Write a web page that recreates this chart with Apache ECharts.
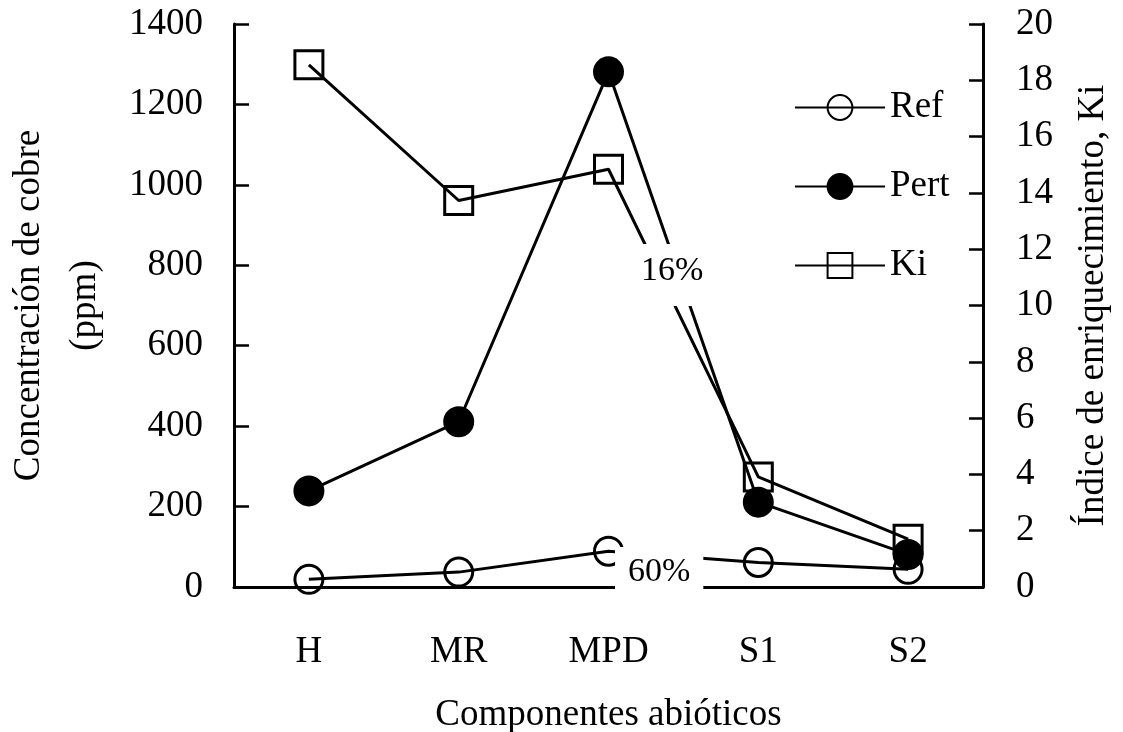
<!DOCTYPE html>
<html>
<head>
<meta charset="utf-8">
<script src="https://cdn.jsdelivr.net/npm/echarts@6/dist/echarts.min.js"></script>
<style>
  html, body { margin: 0; padding: 0; background: #fff; }
  #chart { width: 1123px; height: 732px; }
</style>
</head>
<body>
<div id="chart"></div>
<script>
const categorias = ['H', 'MR', 'MPD', 'S1', 'S2'];
const ref = [19, 37, 89, 61, 44];
const pert = [239, 411, 1281, 211, 81];
const ki = [18.55, 13.73, 14.84, 3.91, 1.70];

const fuente = 'Liberation Serif';
const negro = '#000';

function serieLinea(nombre, datos, simbolo, relleno, ejeY) {
  return {
    name: nombre,
    type: 'line',
    yAxisIndex: ejeY,
    data: datos,
    symbol: simbolo,
    symbolSize: 28,
    lineStyle: { color: negro, width: 3 },
    itemStyle: { color: relleno, borderColor: negro, borderWidth: 3 },
    emphasis: { disabled: true },
    z: 3
  };
}

const chart = echarts.init(document.getElementById('chart'));

chart.setOption({
  backgroundColor: '#fff',
  animation: false,
  textStyle: { fontFamily: fuente, color: negro },
  grid: { left: 234, right: 140, top: 24, bottom: 145, containLabel: false, outerBoundsMode: 'none' },
  legend: {
    orient: 'vertical',
    left: 789,
    top: 84,
    itemWidth: 90,
    itemHeight: 31,
    itemGap: 42,
    textStyle: { fontFamily: fuente, fontSize: 37, color: negro },
    data: ['Ref', 'Pert', 'Ki']
  },
  xAxis: {
    type: 'category',
    data: categorias,
    boundaryGap: true,
    name: 'Componentes abióticos',
    nameLocation: 'middle',
    nameGap: 110,
    nameTextStyle: { fontFamily: fuente, fontSize: 37, color: negro },
    axisLine: { lineStyle: { color: negro, width: 3 } },
    axisTick: { inside: true, length: 14, lineStyle: { color: negro, width: 2.5 } },
    axisLabel: { margin: 47, fontFamily: fuente, fontSize: 37, color: negro },
    splitLine: { show: false }
  },
  yAxis: [
    {
      type: 'value',
      min: 0,
      max: 1400,
      interval: 200,
      name: 'Concentración de cobre\n(ppm)',
      nameLocation: 'middle',
      nameRotate: 90,
      nameGap: 121,
      nameTextStyle: { fontFamily: fuente, fontSize: 37, color: negro, lineHeight: 56 },
      axisLine: { show: true, lineStyle: { color: negro, width: 3 } },
      axisTick: { show: true, inside: true, length: 15, lineStyle: { color: negro, width: 2.5 } },
      axisLabel: { margin: 31, fontFamily: fuente, fontSize: 37, color: negro, formatter: v => String(v) },
      splitLine: { show: false }
    },
    {
      type: 'value',
      position: 'right',
      min: 0,
      max: 20,
      interval: 2,
      name: 'Índice de enriquecimiento, Ki',
      nameLocation: 'middle',
      nameRotate: 90,
      nameGap: 92,
      nameTextStyle: { fontFamily: fuente, fontSize: 37, color: negro },
      axisLine: { show: true, lineStyle: { color: negro, width: 3 } },
      axisTick: { show: true, inside: true, length: 14, lineStyle: { color: negro, width: 2.5 } },
      axisLabel: { margin: 33, fontFamily: fuente, fontSize: 37, color: negro },
      splitLine: { show: false }
    }
  ],
  series: [
    serieLinea('Ref', ref, 'circle', 'rgba(0,0,0,0)', 0),
    serieLinea('Pert', pert, 'circle', negro, 0),
    serieLinea('Ki', ki, 'rect', 'rgba(0,0,0,0)', 1)
  ],
  graphic: [
    {
      type: 'text',
      z: 100,
      left: 627,
      top: 244,
      style: {
        text: '16%',
        font: '34px "Liberation Serif"',
        fill: negro,
        backgroundColor: '#fff',
        padding: [10, 14, 18, 14]
      }
    },
    {
      type: 'text',
      z: 100,
      left: 615,
      top: 547,
      style: {
        text: '60%',
        font: '34px "Liberation Serif"',
        fill: negro,
        backgroundColor: '#fff',
        padding: [8, 13, 16, 13]
      }
    }
  ]
});
</script>
</body>
</html>
